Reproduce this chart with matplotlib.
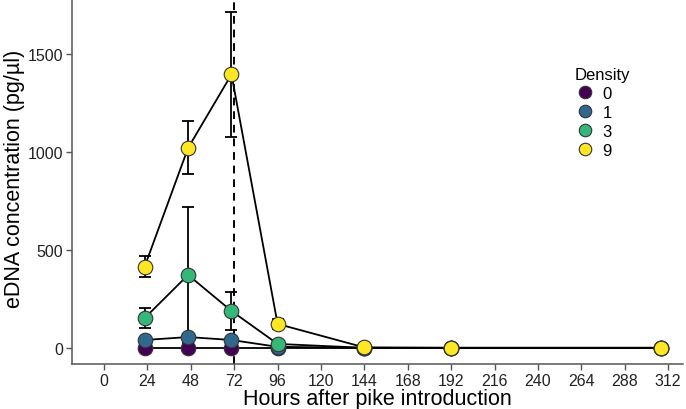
import numpy as np
import matplotlib.pyplot as plt
from matplotlib.lines import Line2D

plt.rcParams['font.family'] = ['Liberation Sans', 'DejaVu Sans']

# sampling times (hours after pike introduction)
hours = [22.5, 46.5, 70.5, 96, 144, 192, 308]

densities = ['0', '1', '3', '9']
colors = ['#440154', '#31688E', '#35B779', '#FDE725']

# mean eDNA concentration per density
means = {
    '0': [0, 0, 0, 0, 0, 0, 0],
    '1': [40, 55, 40, 5, 0, 0, 0],
    '3': [152, 372, 188, 20, 0, 0, 0],
    '9': [415, 1020, 1395, 122, 2, 0, 0],
}
# standard errors
errors = {
    '0': [0, 0, 0, 0, 0, 0, 0],
    '1': [8, 15, 10, 3, 0, 0, 0],
    '3': [52, 345, 95, 8, 0, 0, 0],
    '9': [52, 135, 320, 25, 2, 0, 0],
}

fig, ax = plt.subplots(figsize=(6.86, 4.10), dpi=100)
fig.subplots_adjust(left=0.105, right=0.995, top=1.0, bottom=0.11)

ax.axvline(72, color='black', linestyle=(0, (4, 3)), linewidth=1.4, zorder=1)

for d, c in zip(densities, colors):
    y = np.array(means[d])
    e = np.array(errors[d])
    ax.errorbar(hours, y, yerr=e, fmt='none', ecolor='black', elinewidth=1.3,
                capsize=4.5, capthick=1.3, zorder=2)
    ax.plot(hours, y, color='black', linewidth=1.3, zorder=3)
    ax.plot(hours, y, linestyle='none', marker='o', markersize=10.5,
            markerfacecolor=c, markeredgecolor='#333333', markeredgewidth=0.8, zorder=4)

ax.set_xlim(-17.7, 320)
ax.set_ylim(-82, 1780)
ax.set_xticks(np.arange(0, 313, 24))
ax.set_yticks([0, 500, 1000, 1500])
ax.tick_params(labelsize=11.5, color='#555555', length=4, width=1, labelcolor='#222222',
               pad=2.5)

for s in ['top', 'right']:
    ax.spines[s].set_visible(False)
for s in ['left', 'bottom']:
    ax.spines[s].set_color('#555555')
    ax.spines[s].set_linewidth(1.1)

ax.set_xlabel('Hours after pike introduction', fontsize=15.5, labelpad=0)
ax.set_ylabel('eDNA concentration (pg/µl)', fontsize=15.5)
ax.yaxis.set_label_coords(-0.077, 0.51)

handles = [Line2D([], [], linestyle='none', marker='o', markersize=9,
                  markerfacecolor=c, markeredgecolor='#333333', markeredgewidth=0.8)
           for c in colors]
leg = fig.legend(handles, densities, title='Density', loc='upper left',
                 bbox_to_anchor=(0.838, 0.835), frameon=False, fontsize=12,
                 title_fontsize=12, handletextpad=0.45, labelspacing=0.25,
                 handlelength=1.2, borderaxespad=0, borderpad=0)
leg._legend_box.align = 'left'

plt.savefig('out.png', dpi=100)
